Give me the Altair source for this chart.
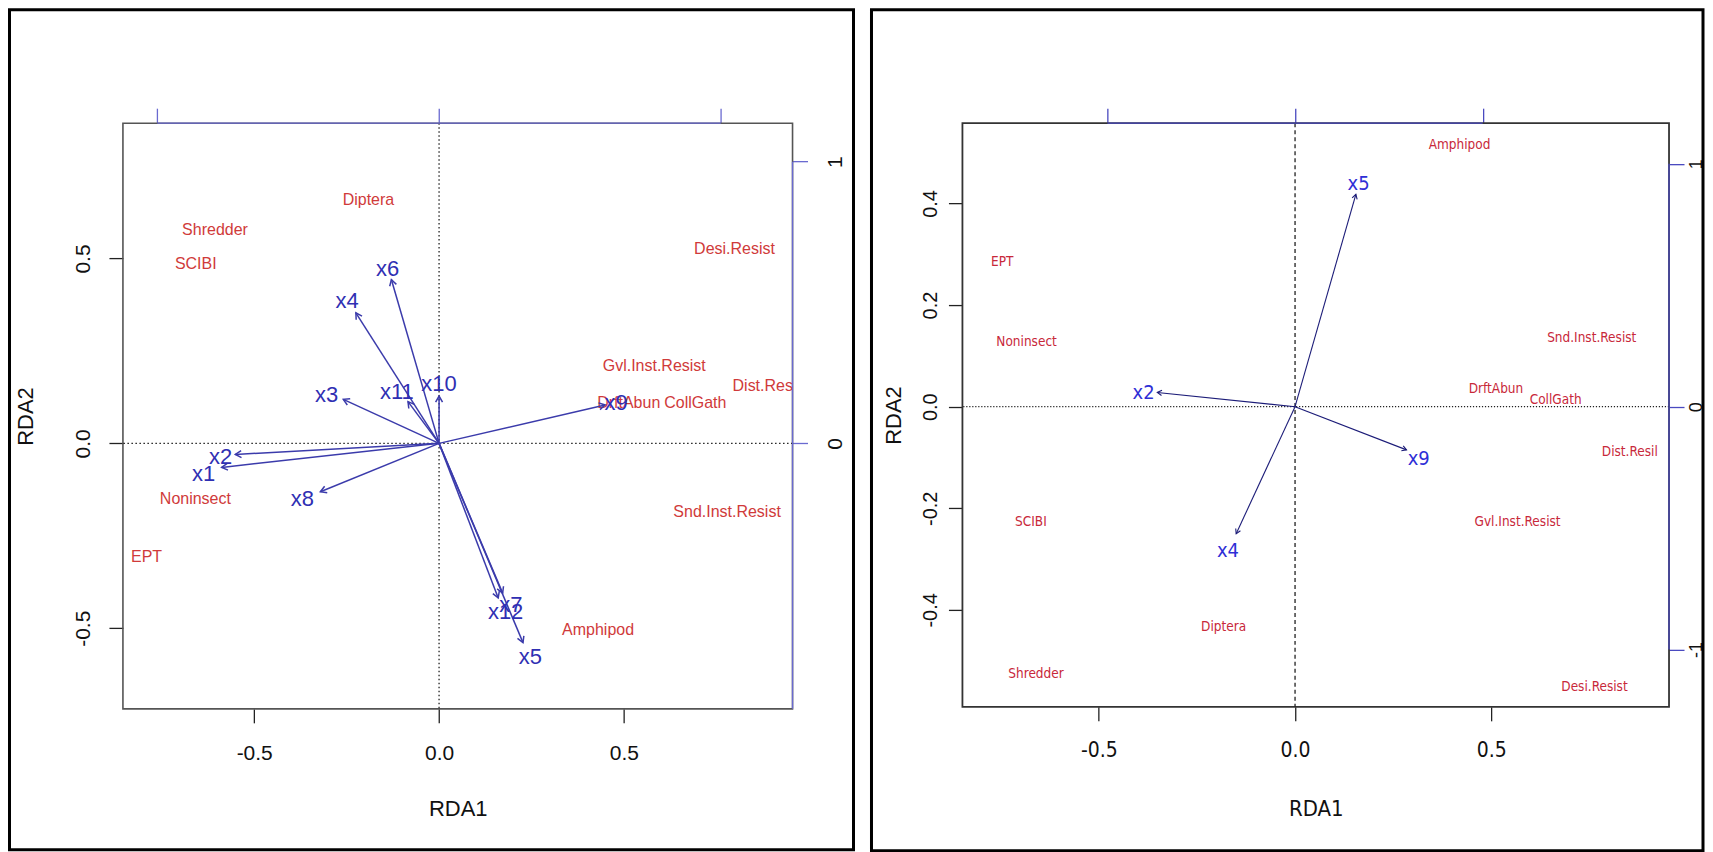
import math
import altair as alt
import pandas as pd

# ---------------- left panel values ----------------
left_species = ["Diptera", "Shredder", "SCIBI", "Desi.Resist", "Gvl.Inst.Resist",
                "Dist.Resil", "DrftAbun", "CollGath", "Noninsect", "Snd.Inst.Resist",
                "EPT", "Amphipod"]
left_species_x = [-0.191, -0.606, -0.658, 0.799, 0.582, 0.885, 0.513, 0.693, -0.659, 0.779, -0.791, 0.430]
left_species_y = [0.658, 0.578, 0.486, 0.525, 0.209, 0.155, 0.108, 0.110, -0.151, -0.185, -0.308, -0.504]

left_vars = ["x1", "x2", "x3", "x4", "x5", "x6", "x7", "x8", "x9", "x10", "x11", "x12"]
left_tip_x = [-0.588, -0.551, -0.259, -0.225, 0.227, -0.129, 0.172, -0.321, 0.449, 0.000, -0.084, 0.160]
left_tip_y = [-0.065, -0.030, 0.119, 0.353, -0.539, 0.443, -0.405, -0.131, 0.104, 0.128, 0.113, -0.418]
left_lab_x = [-0.637, -0.591, -0.304, -0.249, 0.247, -0.139, 0.194, -0.370, 0.479, 0.000, -0.114, 0.180]
left_lab_y = [-0.083, -0.038, 0.132, 0.385, -0.577, 0.472, -0.437, -0.151, 0.108, 0.160, 0.138, -0.457]

# ---------------- right panel values ----------------
right_species = ["Amphipod", "EPT", "Noninsect", "Snd.Inst.Resist", "DrftAbun", "CollGath",
                 "Dist.Resil", "SCIBI", "Gvl.Inst.Resist", "Diptera", "Shredder", "Desi.Resist"]
right_species_x = [0.419, -0.746, -0.684, 0.756, 0.512, 0.664, 0.853, -0.673, 0.567, -0.182, -0.660, 0.763]
right_species_y = [0.516, 0.285, 0.127, 0.136, 0.034, 0.014, -0.089, -0.226, -0.226, -0.433, -0.526, -0.551]

right_vars = ["x2", "x4", "x5", "x9"]
right_tip_x = [-0.351, -0.150, 0.155, 0.284]
right_tip_y = [0.028, -0.250, 0.418, -0.085]
right_lab_x = [-0.386, -0.171, 0.162, 0.315]
right_lab_y = [0.026, -0.284, 0.439, -0.102]

# axis tick values
left_xticks = [-0.5, 0.0, 0.5]
left_yticks = [-0.5, 0.0, 0.5]
left_top_ticks = [-1, 0, 1]
left_right_ticks = [0, 1]
right_xticks = [-0.5, 0.0, 0.5]
right_yticks = [-0.4, -0.2, 0.0, 0.2, 0.4]
right_top_ticks = [-1, 0, 1]
right_right_ticks = [-1, 0, 1]

CHEVRON = "M-0.577,1L0,0L0.577,1"
REG = "Liberation Sans"
NARROW = "Liberation Sans Narrow, Arial Narrow, DejaVu Sans Condensed, sans-serif"


def num_expr(fmt):
    return "replace(format(datum.value, '" + fmt + "'), '\u2212', '-')"


def build_panel(sp_names, sp_x, sp_y, names, tx, ty, lx, ly, st):
    W, H = st["W"], st["H"]
    xd, yd, f = st["xdom"], st["ydom"], st["f"]
    xs = alt.Scale(domain=xd, nice=False, zero=False)
    ys = alt.Scale(domain=yd, nice=False, zero=False)
    xs2 = alt.Scale(domain=[xd[0] / f, xd[1] / f], nice=False, zero=False)
    ys2 = alt.Scale(domain=[yd[0] / f, yd[1] / f], nice=False, zero=False)
    pux = W / (xd[1] - xd[0])
    puy = H / (yd[1] - yd[0])

    sp = pd.DataFrame({"name": sp_names, "x": sp_x, "y": sp_y})
    ar = pd.DataFrame({"name": names, "ox": [0.0] * len(names), "oy": [0.0] * len(names),
                       "tx": tx, "ty": ty, "lx": lx, "ly": ly})
    ar["ang"] = [math.degrees(math.atan2(a * pux, b * puy)) % 360 for a, b in zip(tx, ty)]
    one = pd.DataFrame({"z": [0.0]})

    xaxis = alt.Axis(orient="bottom", values=st["xticks"], labelExpr=num_expr(".1f"), tickSize=14,
                     tickColor="#222", tickWidth=1.3, domain=False, grid=False,
                     labelFont=st["xlabfont"], labelFontSize=st["xlabfs"], labelColor="#111",
                     labelPadding=st["xlabpad"], labelOverlap=False,
                     title="RDA1", titleFont=st["xlabfont"], titleFontSize=st["xtitfs"],
                     titleFontWeight="normal", titleColor="#111", titleX=W / 2,
                     titleY=st["xtitle_y"], titleBaseline="alphabetic", titleAlign="center")
    yaxis = alt.Axis(orient="left", values=st["yticks"], labelExpr=num_expr(".1f"), tickSize=14,
                     tickColor="#222", tickWidth=1.3, domain=False, grid=False,
                     labelFont=REG, labelFontSize=st["ylabfs"], labelColor="#111",
                     labelAngle=270, labelAlign="center", labelBaseline="alphabetic",
                     labelPadding=st["ylabpad"], labelOverlap=False,
                     title="RDA2", titleFont=REG, titleFontSize=22, titleFontWeight="normal",
                     titleColor="#111", titleAngle=270, titleX=st["ytitle_x"], titleY=H / 2,
                     titleBaseline="alphabetic", titleAlign="center")
    top_axis = alt.Axis(orient="top", values=st["top_ticks"], labels=False, tickSize=15,
                        tickColor=st["axis_blue"], tickWidth=1.3, domain=False, grid=False,
                        title=None)
    right_axis = alt.Axis(orient="right", values=st["right_ticks"], labelExpr=num_expr("d"),
                          labelAngle=270, labelAlign="center", labelBaseline="middle",
                          labelPadding=st["rlabpad"], tickSize=15, tickColor=st["axis_blue"],
                          tickWidth=1.3, domain=False, grid=False, labelFont=REG,
                          labelFontSize=st["rlabfs"], labelColor="#111", labelOverlap=False,
                          title=None)

    outer = alt.Chart(one).mark_rect(fillOpacity=0, stroke="black", strokeWidth=3).encode(
        x=alt.value(st["box"][0]), x2=alt.value(st["box"][1]),
        y=alt.value(st["box"][2]), y2=alt.value(st["box"][3]))
    frame = alt.Chart(one).mark_rect(fillOpacity=0, stroke=st["frame_color"],
                                     strokeWidth=st["frame_w"]).encode(
        x=alt.value(0), x2=alt.value(W), y=alt.value(0), y2=alt.value(H))
    hline = alt.Chart(one).mark_rule(color="#222", strokeDash=st["hdash"], strokeWidth=1.3).encode(
        y=alt.Y("z:Q", scale=ys, axis=None))
    vline = alt.Chart(one).mark_rule(color="#222", strokeDash=st["vdash"], strokeWidth=1.3).encode(
        x=alt.X("z:Q", scale=xs, axis=None))
    sp_text = alt.Chart(sp).mark_text(font=st["sfont"], fontSize=st["sfs"], color=st["red"],
                                      clip=True).encode(
        x=alt.X("x:Q", scale=xs, axis=xaxis), y=alt.Y("y:Q", scale=ys, axis=yaxis), text="name:N")
    arrows = alt.Chart(ar).mark_rule(color=st["arrow_color"], strokeWidth=st["arrow_w"]).encode(
        x=alt.X("ox:Q", scale=xs, axis=None), y=alt.Y("oy:Q", scale=ys, axis=None),
        x2="tx:Q", y2="ty:Q")
    heads = alt.Chart(ar).mark_point(shape=CHEVRON, filled=False, size=st["head_size"],
                                     strokeWidth=st["arrow_w"], color=st["arrow_color"],
                                     opacity=1).encode(
        x=alt.X("tx:Q", scale=xs, axis=None), y=alt.Y("ty:Q", scale=ys, axis=None),
        angle=alt.Angle("ang:Q", scale=None))
    labels = alt.Chart(ar).mark_text(font=st["bfont"], fontSize=st["bfs"], color=st["blue"]).encode(
        x=alt.X("lx:Q", scale=xs, axis=None), y=alt.Y("ly:Q", scale=ys, axis=None), text="name:N")

    top_df = pd.DataFrame({"a": [min(st["top_ticks"])], "b": [max(st["top_ticks"])]})
    low = min(st["right_ticks"])
    right_df = pd.DataFrame({"a": [max(st["right_ticks"])],
                             "b": [low if low < 0 else yd[0] / f]})
    top_rule = alt.Chart(top_df).mark_rule(color=st["axis_blue"], strokeWidth=1.3).encode(
        x=alt.X("a:Q", scale=xs2, axis=top_axis), x2="b:Q", y=alt.value(0))
    right_rule = alt.Chart(right_df).mark_rule(color=st["axis_blue"], strokeWidth=1.3).encode(
        y=alt.Y("a:Q", scale=ys2, axis=right_axis), y2="b:Q", x=alt.value(W))

    return alt.layer(outer, frame, hline, vline, sp_text, arrows, heads, labels,
                     top_rule, right_rule).resolve_scale(
        x="independent", y="independent").resolve_axis(
        x="independent", y="independent").properties(width=W, height=H)


left_style = dict(
    W=670, H=586, xdom=[-0.855, 0.956], ydom=[-0.718, 0.866], f=0.762,
    xticks=left_xticks, yticks=left_yticks, top_ticks=left_top_ticks, right_ticks=left_right_ticks,
    xlabfont=REG, xlabfs=21, xlabpad=20, xtitfs=22, xtitle_y=107,
    ylabfs=21, ylabpad=19.5, ytitle_x=-90, rlabpad=28, rlabfs=21,
    box=[-113.5, 731, -113.5, 727], frame_color="#555", frame_w=1.6,
    hdash=[1.5, 2.5], vdash=[1.5, 2.5],
    sfont=REG, sfs=16, red="#d03a3a", bfont=REG, bfs=22, blue="#2f2fb3",
    arrow_color="#3b3bab", arrow_w=1.5, head_size=144, axis_blue="#6a6ad0",
)
right_style = dict(
    W=707, H=584, xdom=[-0.8475, 0.9529], ydom=[-0.5908, 0.5581], f=0.478,
    xticks=right_xticks, yticks=right_yticks, top_ticks=right_top_ticks, right_ticks=right_right_ticks,
    xlabfont=NARROW, xlabfs=21, xlabpad=19, xtitfs=22, xtitle_y=109,
    ylabfs=20, ylabpad=11.5, ytitle_x=-62, rlabpad=12, rlabfs=18,
    box=[-91, 741, -113.5, 728], frame_color="#333", frame_w=1.8,
    hdash=[1.2, 1.8], vdash=[4, 3],
    sfont=NARROW, sfs=13.5, red="#c8283a", bfont=NARROW, bfs=20, blue="#2e2ed6",
    arrow_color="#1c1c78", arrow_w=1.1, head_size=81, axis_blue="#4a4ac0",
)

left_panel = build_panel(left_species, left_species_x, left_species_y, left_vars,
                         left_tip_x, left_tip_y, left_lab_x, left_lab_y, left_style)
right_panel = build_panel(right_species, right_species_x, right_species_y, right_vars,
                          right_tip_x, right_tip_y, right_lab_x, right_lab_y, right_style)

chart = alt.concat(left_panel, right_panel, columns=2, spacing=14, align="none",
                   bounds="full").properties(padding=0, background="white").configure_view(stroke=None)

chart.save("out.html", embed_options={"renderer": "svg", "actions": False})
